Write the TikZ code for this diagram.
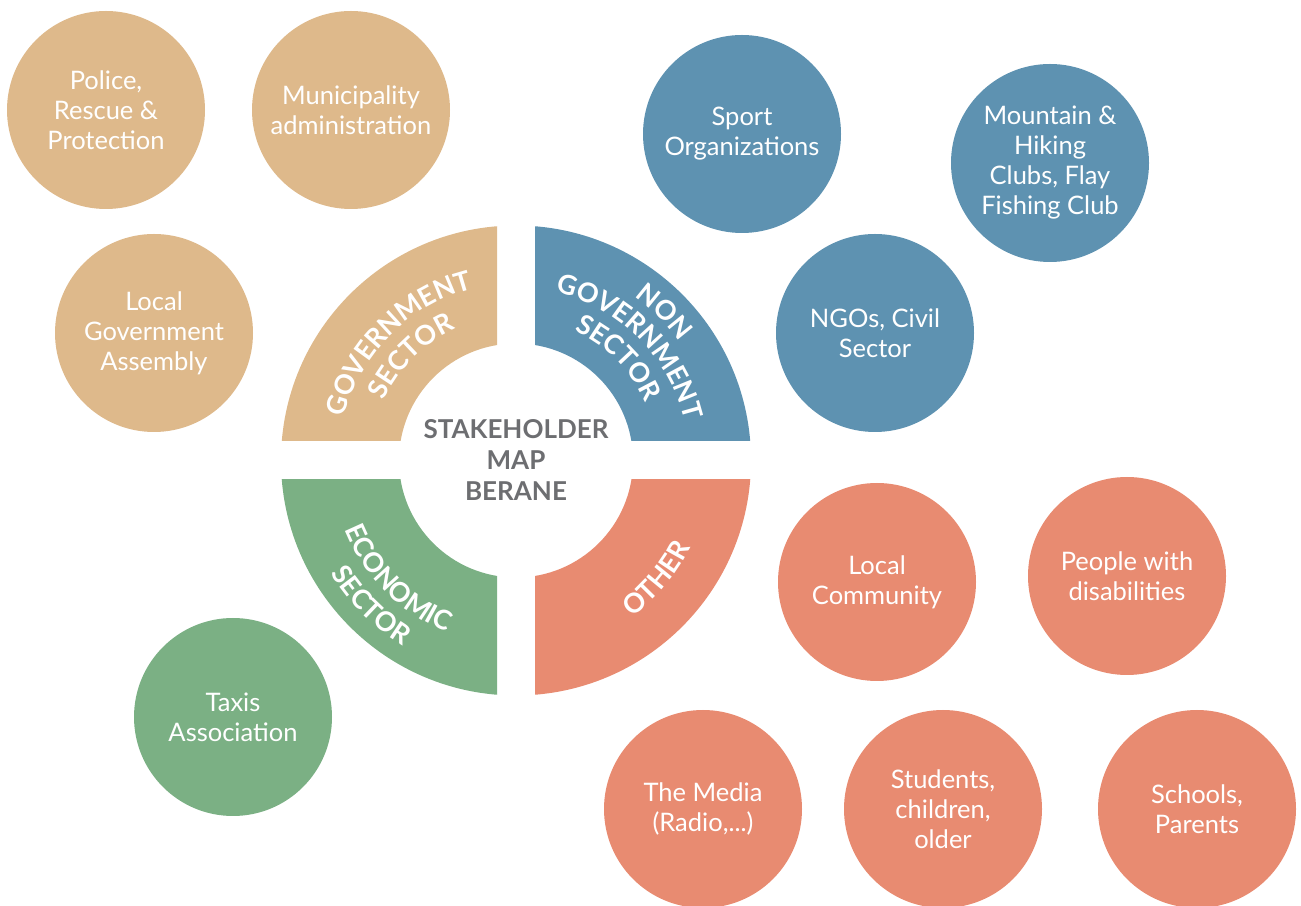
\documentclass[tikz,border=0pt]{standalone}
\usepackage{fontspec}
\setmainfont{Lato}
\usetikzlibrary{decorations.text}
\definecolor{gtan}{HTML}{DEB98B}
\definecolor{gblue}{HTML}{5E92B1}
\definecolor{ggreen}{HTML}{7BB084}
\definecolor{gsalmon}{HTML}{E88B71}
\definecolor{ggray}{HTML}{6D6E71}
\newcommand\qfont{\fontsize{27}{27}\selectfont\bfseries}
\begin{document}
\begin{tikzpicture}[x=1pt,y=1pt,
  bub/.style={circle, minimum size=198pt, inner sep=0pt, text=white, align=center,
    font=\fontsize{25.5}{30}\selectfont},
  arctext/.style={decorate, decoration={text along path, text align=center,
    text color=white, text={|\qfont|#1}}},
  ring/.style={even odd rule}
]
\useasboundingbox (0,0) rectangle (1301,905);
% quadrant ring
\begin{scope}[shift={(516,444.5)}]
  \begin{scope}\clip (-250,19.5) rectangle (-19,250);
    \fill[gtan,ring] (0,0) circle (235) (0,0) circle (117); \end{scope}
  \begin{scope}\clip (19,19.5) rectangle (250,250);
    \fill[gblue,ring] (0,0) circle (235) (0,0) circle (117); \end{scope}
  \begin{scope}\clip (-250,-19.5) rectangle (-19,-250);
    \fill[ggreen,ring] (0,0) circle (235) (0,0) circle (117); \end{scope}
  \begin{scope}\clip (19,-19.5) rectangle (250,-250);
    \fill[gsalmon,ring] (0,0) circle (235) (0,0) circle (117); \end{scope}
  \path[arctext=GOVERNMENT] (180:177) arc[start angle=180,end angle=90,radius=177];
  \path[arctext=SECTOR] (180:145) arc[start angle=180,end angle=90,radius=145];
  \path[arctext=NON] (90:202) arc[start angle=90,end angle=0,radius=202];
  \path[arctext=GOVERNMENT] (90:173) arc[start angle=90,end angle=0,radius=173];
  \path[arctext=SECTOR] (90:142) arc[start angle=90,end angle=0,radius=142];
  \path[arctext=ECONOMIC] (180:185) arc[start angle=180,end angle=270,radius=185];
  \path[arctext=SECTOR] (180:217) arc[start angle=180,end angle=270,radius=217];
  \path[arctext=OTHER] (275:195) arc[start angle=275,end angle=365,radius=195];
  \node[align=center, text=ggray, font=\fontsize{26}{31}\selectfont\bfseries] (title) at (0,0)
    {STAKEHOLDER\\MAP\\BERANE};
\end{scope}
% government
\node[bub, fill=gtan] (police) at (106,795) {Police,\\Rescue \&\\Protection};
\node[bub, fill=gtan] (muni) at (351,795) {Municipality\\administration};
\node[bub, fill=gtan] (lga) at (154,572) {Local\\Government\\Assembly};
% non government
\node[bub, fill=gblue] (sport) at (742,771) {Sport\\Organizations};
\node[bub, fill=gblue] (mount) at (1050,742) {Mountain \&\\Hiking\\Clubs, Flay\\Fishing Club};
\node[bub, fill=gblue] (ngo) at (875,572) {NGOs, Civil\\Sector};
% economic
\node[bub, fill=ggreen] (taxi) at (233,188) {Taxis\\Association};
% other
\node[bub, fill=gsalmon] (comm) at (877,323) {Local\\Community};
\node[bub, fill=gsalmon] (dis) at (1127,329) {People with\\disabilities};
\node[bub, fill=gsalmon] (media) at (703,96) {The Media\\(Radio,...)};
\node[bub, fill=gsalmon] (stud) at (943,96) {Students,\\children,\\older};
\node[bub, fill=gsalmon] (school) at (1197,96) {Schools,\\Parents};
\end{tikzpicture}
\end{document}
